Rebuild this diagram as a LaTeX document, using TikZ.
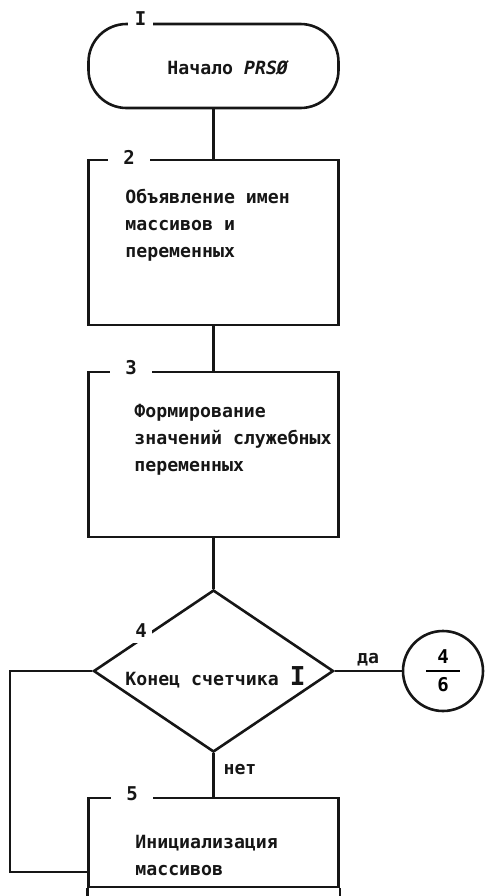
\documentclass[tikz,border=0pt]{standalone}
\usepackage{fontspec}
\usepackage{amsmath}
\setmainfont{DejaVu Sans Mono}
\usetikzlibrary{shapes.geometric}
\definecolor{ink}{RGB}{22,22,22}
\tikzset{
  blk/.style={draw=ink, line width=1.3pt, rectangle, minimum width=125pt, inner sep=0pt},
  num/.style={fill=white, inner xsep=7.5pt, inner ysep=1pt, text=ink,
              font=\fontsize{9.5}{10}\selectfont\bfseries},
  txt/.style={align=left, anchor=west, inner sep=0pt, text=ink,
              font=\fontsize{9.1}{13.5}\selectfont\bfseries},
  wire/.style={draw=ink, line width=1.3pt},
}

\begin{document}
\begin{tikzpicture}[x=0.5pt,y=-0.5pt]
  \useasboundingbox (0,0) rectangle (485,896);
  \node[blk, rounded corners=19pt, minimum height=42pt] (t1) at (213.5,66) {};
  \node[blk, minimum height=82.5pt] (b2) at (213.5,242.5) {};
  \node[blk, minimum height=82.5pt] (b3) at (213.5,454.5) {};
  \node[blk, diamond, minimum width=120pt, minimum height=81pt] (d4) at (213.5,671) {};
  \node[blk, circle, minimum size=40pt, minimum width=40pt,
        font=\fontsize{9.5}{10}\selectfont\bfseries] (c46) at (443,671)
        {$\genfrac{}{}{1pt}{0}{\hbox to 17pt{\hss\bfseries 4\hss}}{\hbox{\bfseries 6}}$};
  \node[blk, minimum height=44.5pt] (b5) at (213.5,842.5) {};
  \node[num, inner xsep=3.5pt] (l1) at (140.5,19) {I};
  \node[num] (l2) at (129,157) {2};
  \node[num] (l3) at (131,368) {3};
  \node[num, inner xsep=2.5pt, inner ysep=2.5pt] (l4) at (141,631) {4};
  \node[num] (l5) at (132,794) {5};
  \node[txt] (t1x) at (167,68) {Начало \textit{PRSØ}};
  \node[txt] (b2x) at (125,225) {Объявление имен\\массивов и\\переменных};
  \node[txt] (b3x) at (134,440) {Формирование\\значений служебных\\переменных};
  \node[txt] (d4x) at (125,677) {Конец счетчика {\fontsize{13}{13}\selectfont I}};
  \node[txt] (b5x) at (135,855) {Инициализация\\массивов};
  \node[txt, anchor=center] (yes) at (368,660) {да};
  \node[txt, anchor=center] (no) at (240,770) {нет};
  \draw[wire] (t1) -- (b2);
  \draw[wire] (b2) -- (b3);
  \draw[wire] (b3) -- (d4);
  \draw[wire] (d4) -- (b5);
  \draw[wire] (d4) -- (c46);
  \coordinate (back) at (10,872);
  \draw[wire] (d4.west) -| (back) -- (back -| b5.west);
  \draw[wire] (b5.south west) -- ++(0,10) (b5.south east) -- ++(0,10);
\end{tikzpicture}
\end{document}
